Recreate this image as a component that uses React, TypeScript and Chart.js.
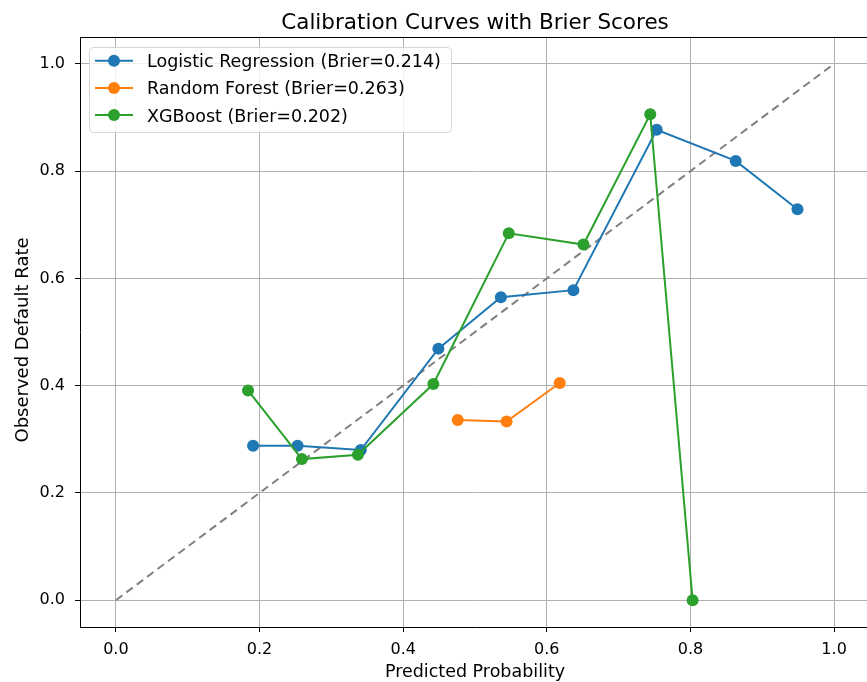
import React, { useEffect, useRef } from "react";
import { Chart, registerables } from "chart.js";

Chart.register(...registerables);

const FONT = "'DejaVu Sans', sans-serif";

const chartTitle = "Calibration Curves with Brier Scores";
const xAxisTitle = "Predicted Probability";
const yAxisTitle = "Observed Default Rate";
const tickValues = [0, 0.2, 0.4, 0.6, 0.8, 1.0];

const seriesNames = [
  "Logistic Regression (Brier=0.214)",
  "Random Forest (Brier=0.263)",
  "XGBoost (Brier=0.202)",
];
const seriesColors = ["#1f77b4", "#ff7f0e", "#2ca02c"];

const lrPred = [0.191, 0.253, 0.341, 0.449, 0.536, 0.637, 0.753, 0.863, 0.949];
const lrObs = [0.288, 0.288, 0.28, 0.469, 0.565, 0.578, 0.877, 0.819, 0.729];

const rfPred = [0.476, 0.544, 0.618];
const rfObs = [0.336, 0.333, 0.405];

const xgbPred = [0.184, 0.259, 0.337, 0.442, 0.547, 0.651, 0.744, 0.803];
const xgbObs = [0.391, 0.263, 0.271, 0.403, 0.684, 0.663, 0.906, 0.0];

const diagonal = [0, 1];

const toPoints = (xs: number[], ys: number[]) => xs.map((x, i) => ({ x, y: ys[i] }));

const decorPlugin = {
  id: "decor",
  afterDraw(chart: any) {
    const { ctx, chartArea } = chart;
    const { left, right, top, bottom } = chartArea;
    ctx.save();
    // top and right spines
    ctx.strokeStyle = "#000";
    ctx.lineWidth = 1;
    ctx.beginPath();
    ctx.moveTo(left, top + 0.5);
    ctx.lineTo(right, top + 0.5);
    ctx.moveTo(right - 0.5, top);
    ctx.lineTo(right - 0.5, bottom);
    ctx.stroke();

    // title
    ctx.fillStyle = "#000";
    ctx.textAlign = "center";
    ctx.textBaseline = "alphabetic";
    ctx.font = `21.5px ${FONT}`;
    ctx.fillText(chartTitle, (left + right) / 2, 28.5);

    // axis titles
    ctx.font = `17.5px ${FONT}`;
    ctx.fillText(xAxisTitle, (left + right) / 2, 676.5);
    ctx.save();
    ctx.translate(27.5, 340);
    ctx.rotate(-Math.PI / 2);
    ctx.font = `18px ${FONT}`;
    ctx.fillText(yAxisTitle, 0, 0);
    ctx.restore();

    // legend
    const bx = 89.5, by = 47.5, bw = 362, bh = 85, r = 4;
    ctx.beginPath();
    ctx.moveTo(bx + r, by);
    ctx.lineTo(bx + bw - r, by);
    ctx.quadraticCurveTo(bx + bw, by, bx + bw, by + r);
    ctx.lineTo(bx + bw, by + bh - r);
    ctx.quadraticCurveTo(bx + bw, by + bh, bx + bw - r, by + bh);
    ctx.lineTo(bx + r, by + bh);
    ctx.quadraticCurveTo(bx, by + bh, bx, by + bh - r);
    ctx.lineTo(bx, by + r);
    ctx.quadraticCurveTo(bx, by, bx + r, by);
    ctx.closePath();
    ctx.fillStyle = "rgba(255,255,255,0.8)";
    ctx.fill();
    ctx.strokeStyle = "#d6d6d6";
    ctx.lineWidth = 1;
    ctx.stroke();

    ctx.font = `17.5px ${FONT}`;
    ctx.textAlign = "left";
    ctx.textBaseline = "alphabetic";
    seriesNames.forEach((name, i) => {
      const cy = 60.7 + i * 27.2;
      ctx.strokeStyle = seriesColors[i];
      ctx.lineWidth = 2;
      ctx.beginPath();
      ctx.moveTo(95, cy);
      ctx.lineTo(133, cy);
      ctx.stroke();
      ctx.fillStyle = seriesColors[i];
      ctx.beginPath();
      ctx.arc(114, cy, 6, 0, Math.PI * 2);
      ctx.fill();
      ctx.fillStyle = "#000";
      ctx.fillText(name, 147, cy + 6.4);
    });
    ctx.restore();
  },
};

export default function App() {
  const ref = useRef<HTMLCanvasElement | null>(null);
  useEffect(() => {
    if (!ref.current) return;
    const lineDs = (i: number, data: any[], order: number) => ({
      label: seriesNames[i],
      data,
      borderColor: seriesColors[i],
      backgroundColor: seriesColors[i],
      borderWidth: 2,
      pointRadius: 6,
      pointHoverRadius: 6,
      pointBorderWidth: 0,
      showLine: true,
      tension: 0,
      order,
    });
    const chart = new Chart(ref.current, {
      type: "scatter",
      data: {
        datasets: [
          {
            label: "diag",
            data: toPoints(diagonal, diagonal),
            borderColor: "#808080",
            borderWidth: 2,
            borderDash: [8, 5],
            pointRadius: 0,
            showLine: true,
            order: 4,
          },
          lineDs(0, toPoints(lrPred, lrObs), 3),
          lineDs(1, toPoints(rfPred, rfObs), 2),
          lineDs(2, toPoints(xgbPred, xgbObs), 1),
        ],
      },
      options: {
        animation: false,
        responsive: false,
        maintainAspectRatio: false,
        layout: { padding: { top: 37, right: 10, left: 0, bottom: 0 } },
        plugins: {
          legend: { display: false },
          title: { display: false },
          tooltip: { enabled: false },
        },
        scales: {
          x: {
            type: "linear",
            min: -0.05,
            max: 1.05,
            afterBuildTicks: (s: any) => {
              s.ticks = tickValues.map((v) => ({ value: v }));
            },
            afterFit: (s: any) => {
              s.height = 55;
            },
            grid: {
              color: "#b0b0b0",
              lineWidth: 1,
              drawTicks: true,
              tickLength: 5,
              tickColor: "#000",
            },
            border: { display: true, color: "#000", width: 1 },
            ticks: {
              color: "#000",
              padding: 8,
              font: { family: FONT, size: 16 },
              callback: (v: any) => Number(v).toFixed(1),
              maxRotation: 0,
            },
          },
          y: {
            type: "linear",
            min: -0.05,
            max: 1.05,
            afterBuildTicks: (s: any) => {
              s.ticks = tickValues.map((v) => ({ value: v }));
            },
            afterFit: (s: any) => {
              s.width = 80;
            },
            grid: {
              color: "#b0b0b0",
              lineWidth: 1,
              drawTicks: true,
              tickLength: 5,
              tickColor: "#000",
            },
            border: { display: true, color: "#000", width: 1 },
            ticks: {
              color: "#000",
              padding: 10,
              font: { family: FONT, size: 16 },
              callback: (v: any) => Number(v).toFixed(1),
            },
          },
        },
      },
      plugins: [decorPlugin],
    });
    return () => chart.destroy();
  }, []);

  return (
    <div
      style={{
        position: "fixed",
        left: 0,
        top: 0,
        width: 867,
        height: 682,
        overflow: "hidden",
        background: "#fff",
      }}
    >
      <canvas ref={ref} width={880} height={682} style={{ width: 880, height: 682 }} />
    </div>
  );
}
